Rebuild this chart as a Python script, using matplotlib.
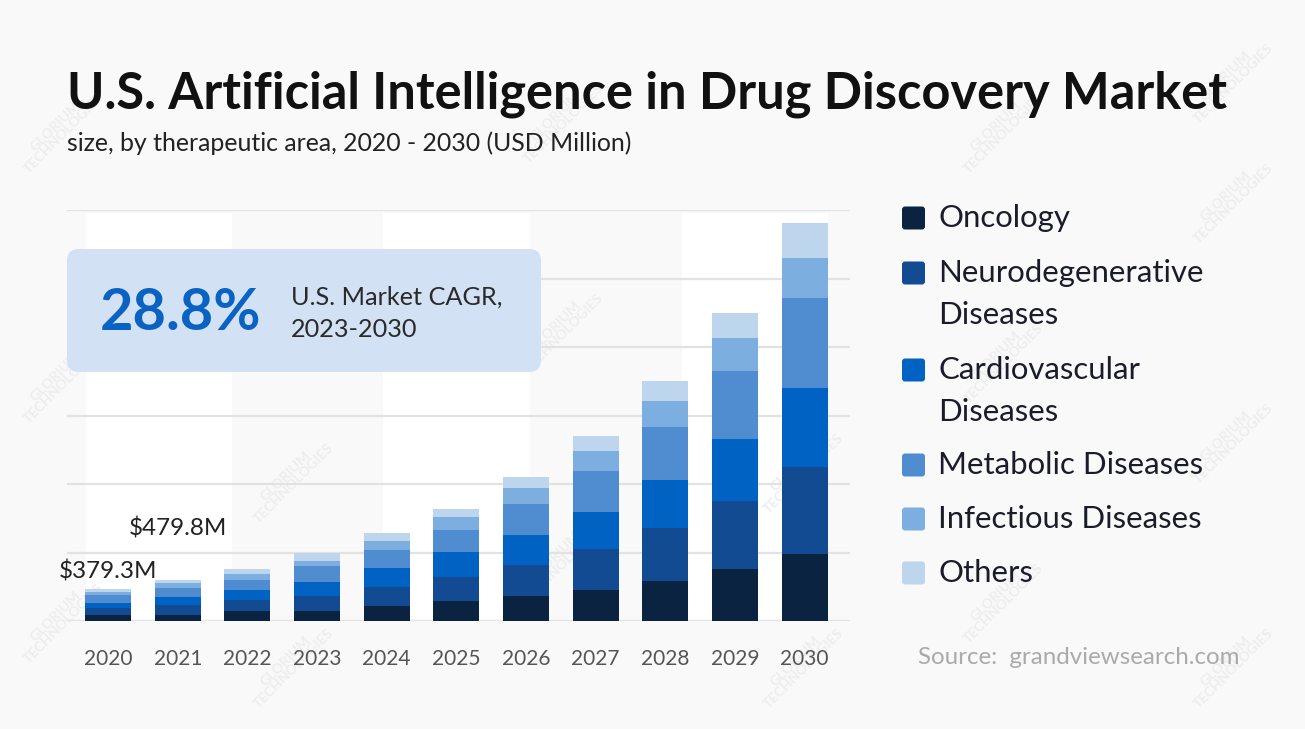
import matplotlib.pyplot as plt
from matplotlib.patches import FancyBboxPatch, Rectangle
from matplotlib.transforms import IdentityTransform

plt.rcParams['font.family'] = ['Lato', 'DejaVu Sans']

# data (USD Million)
years = ["2020", "2021", "2022", "2023", "2024", "2025", "2026", "2027", "2028", "2029", "2030"]
oncology = [75, 75, 117, 122, 180, 234, 289, 359, 468, 608, 784]
neuro = [77, 117, 125, 172, 218, 281, 366, 483, 617, 796, 1018]
cardio = [63, 89, 117, 167, 222, 289, 347, 429, 562, 717, 924]
metabolic = [85, 110, 117, 176, 215, 261, 366, 483, 617, 803, 1041]
infectious = [39, 47, 78, 67, 101, 149, 187, 226, 300, 383, 468]
others = [40.3, 41.8, 59, 90, 87, 97, 125, 184, 242, 293, 410]
series_names = ["Oncology", "Neurodegenerative\nDiseases", "Cardiovascular\nDiseases",
                "Metabolic Diseases", "Infectious Diseases", "Others"]
colors = ["#0a2341", "#134b92", "#0062c3", "#4f8cd0", "#7cafe0", "#bed5ee"]
callouts = {0: "$379.3M", 1: "$479.8M"}

W, H = 1305, 729
BG = "#f9f9f9"
fig = plt.figure(figsize=(W / 100, H / 100), dpi=100, facecolor=BG)
px = IdentityTransform()

def top(y):  # pixel from top -> display y
    return H - y

# white background stripes
for x0, x1 in [(86, 232), (383, 530), (682, 828)]:
    fig.add_artist(Rectangle((x0, top(621)), x1 - x0, 621 - 213, transform=px,
                             facecolor="white", edgecolor="none", zorder=-2))

# faint watermarks
for wx, wy in [(60, 130), (290, 330), (560, 330), (1000, 130), (1230, 80), (1230, 200),
               (290, 480), (60, 380), (1230, 440), (1000, 600), (60, 620), (560, 560),
               (800, 665), (290, 665), (1230, 665), (800, 470), (1000, 360), (560, 120)]:
    fig.text(wx / W, 1 - wy / H, "GLORIUM\nTECHNOLOGIES", rotation=45, ha="center", va="center",
             fontsize=10, color="#ededed", fontweight="bold", linespacing=0.9, zorder=-1)

ax = fig.add_axes([67 / W, 1 - 621 / H, (850 - 67) / W, (621 - 210) / H])
ax.set_facecolor("none")
ax.set_xlim(-0.59, 10.65)
ax.set_ylim(0, 4800)

x = list(range(len(years)))
bottom = [0] * len(years)
stack = [oncology, neuro, cardio, metabolic, infectious, others]
for vals, col in zip(stack, colors):
    ax.bar(x, vals, bottom=bottom, width=0.66, color=col, zorder=3)
    bottom = [b + v for b, v in zip(bottom, vals)]

ax.set_yticks(range(0, 4801, 800))
ax.yaxis.grid(True, color="#e2e2e2", linewidth=1.6, zorder=0)
ax.tick_params(axis="y", left=False, labelleft=False)
for s in ax.spines.values():
    s.set_visible(False)
ax.set_xticks(x)
ax.set_xticklabels(years, fontsize=15, color="#555555")
ax.tick_params(axis="x", length=0, pad=20)

ax.annotate(callouts[0], (0, bottom[0]), xytext=(0, 4), textcoords="offset points",
            ha="center", va="bottom", fontsize=17.5, color="#222222")
ax.annotate(callouts[1], (1, bottom[1]), xytext=(0, 29), textcoords="offset points",
            ha="center", va="bottom", fontsize=17.5, color="#222222")

# title
fig.text(67 / W, 1 - 108 / H, "U.S. Artificial Intelligence in Drug Discovery Market",
         fontsize=36.4, fontweight="bold", color="#111111", va="baseline")
fig.text(67 / W, 1 - 151 / H, "size, by therapeutic area, 2020 - 2030 (USD Million)",
         fontsize=17.9, color="#222222", va="baseline")

# CAGR box
fig.add_artist(FancyBboxPatch((67 + 12, top(372) + 12), 474 - 24, 123 - 24,
                              boxstyle="round,pad=12", transform=px,
                              facecolor="#d3e1f4", edgecolor="none", zorder=2))
fig.text(100 / W, 1 - 313 / H, "28.8%", fontsize=41.5, fontweight="bold", color="#0a62c2",
         va="center", zorder=3)
fig.text(291 / W, 1 - 297 / H, "U.S. Market CAGR,", fontsize=18.2, color="#2a2a2a",
         va="center", zorder=3)
fig.text(291 / W, 1 - 330 / H, "2023-2030", fontsize=18.2, color="#2a2a2a",
         va="center", zorder=3)

# legend
leg_y = [218, 273, 370, 465, 519, 573]
for name, col, ly in zip(series_names, colors, leg_y):
    fig.add_artist(FancyBboxPatch((902 + 3, top(ly) - 11.5 + 3), 23 - 6, 23 - 6,
                                  boxstyle="round,pad=3", transform=px,
                                  facecolor=col, edgecolor="none", zorder=2))
    for i, ln in enumerate(name.split("\n")):
        fig.text(938 / W, 1 - (ly + i * 42) / H, ln, fontsize=22.4, color="#1a1c2a",
                 va="center", zorder=3)

fig.text(918 / W, 1 - 658 / H, "Source:  grandviewsearch.com", fontsize=17.4,
         color="#aaaaaa", va="center")

fig.savefig("out.png", dpi=100, facecolor=BG)
